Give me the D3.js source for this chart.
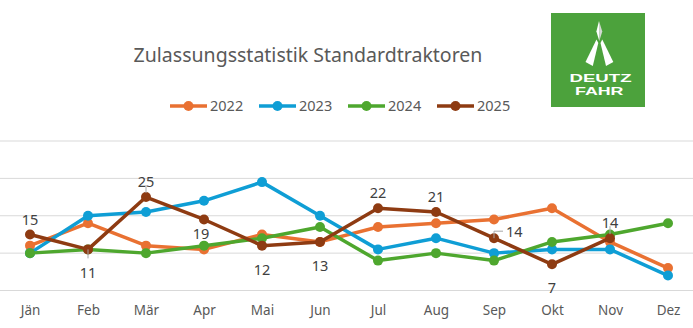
<!DOCTYPE html>
<html>
<head>
<meta charset="utf-8">
<script src="https://cdn.jsdelivr.net/npm/d3@7"></script>
<style>
  html, body { margin: 0; padding: 0; background: #ffffff; }
  svg { display: block; font-family: "Noto Sans", "Open Sans", sans-serif; }
</style>
</head>
<body>
<svg id="chart" width="693" height="328"></svg>
<script>
// ---- data ----
const months = ["Jän", "Feb", "Mär", "Apr", "Mai", "Jun", "Jul", "Aug", "Sep", "Okt", "Nov", "Dez"];
const seriesNames = ["2022", "2023", "2024", "2025"];
const values2022 = [12, 18, 12, 11, 15, 13, 17, 18, 19, 22, 13, 6];
const values2023 = [10, 20, 21, 24, 29, 20, 11, 14, 10, 11, 11, 4];
const values2024 = [10, 11, 10, 12, 14, 17, 8, 10, 8, 13, 15, 18];
const values2025 = [15, 11, 25, 19, 12, 13, 22, 21, 14, 7, 14, null];
const yTicks = [0, 10, 20, 30, 40];
const title = "Zulassungsstatistik Standardtraktoren";
// label placement for 2025 data labels ("*" = with leader line)
const labelPlacement2025 = ["above", "below*", "above*", "belowNear", "below", "below", "above", "above", "right*", "below", "above*", null];

const colors = ["#E97132", "#0F9ED5", "#4EA72E", "#8E3B12"];
const allSeries = [values2022, values2023, values2024, values2025];

const svg = d3.select("#chart");

// ---- scales ----
const x = d3.scalePoint().domain(months).range([30, 668]);
const y = d3.scaleLinear().domain([0, 40]).range([290.5, 141]);

// ---- gridlines ----
svg.append("g").selectAll("line").data(yTicks).join("line")
  .attr("x1", 0).attr("x2", 693)
  .attr("y1", d => y(d)).attr("y2", d => y(d))
  .attr("stroke", "#d9d9d9").attr("stroke-width", 1);

// ---- x axis ----
const xAxis = svg.append("g").attr("transform", "translate(0,305)")
  .call(d3.axisBottom(x).tickSize(0).tickPadding(0));
xAxis.select(".domain").remove();
xAxis.selectAll("text")
  .attr("dy", "0.72em")
  .attr("font-size", 13.5)
  .attr("fill", "#595959")
  .attr("font-family", "Noto Sans, sans-serif");

// ---- lines ----
const line = d3.line()
  .defined(d => d.v != null)
  .x(d => x(d.m)).y(d => y(d.v));

allSeries.forEach((vals, i) => {
  const pts = vals.map((v, j) => ({ m: months[j], v }));
  const g = svg.append("g");
  g.append("path").datum(pts)
    .attr("d", line)
    .attr("fill", "none")
    .attr("stroke", colors[i])
    .attr("stroke-width", 3.5)
    .attr("stroke-linejoin", "round");
  g.selectAll("circle").data(pts.filter(d => d.v != null)).join("circle")
    .attr("cx", d => x(d.m)).attr("cy", d => y(d.v))
    .attr("r", 5)
    .attr("fill", colors[i]);
});

// ---- data labels for 2025 ----
const lbl = svg.append("g").attr("font-size", 14.5).attr("fill", "#404040");
values2025.forEach((v, j) => {
  const p = labelPlacement2025[j];
  if (v == null || !p) return;
  const px = x(months[j]), py = y(v);
  const kind = p.replace("*", "");
  const leader = p.endsWith("*");
  let tx = px, ty = py, anchor = "middle";
  if (kind === "above") ty = py - 15;
  else if (kind === "below") ty = py + 24;
  else if (kind === "belowNear") { ty = py + 14; tx = px - 3; }
  else if (kind === "right") { tx = px + 12; ty = py - 6; anchor = "start"; }
  lbl.append("text")
    .attr("x", tx).attr("y", ty)
    .attr("dy", "0.35em")
    .attr("text-anchor", anchor)
    .text(v);
  if (leader) {
    let path;
    if (kind === "above") path = `M${px},${py - 4}V${py - 12}`;
    else if (kind === "below") path = `M${px},${py}V${py + 9}`;
    else path = `M${px + 9},${py - 7}H${px}V${py}`;
    svg.append("path").attr("d", path).attr("fill", "none")
      .attr("stroke", "#a6a6a6").attr("stroke-width", 1);
  }
});

// ---- title ----
const t = svg.append("text")
  .attr("x", 308).attr("y", 61.5)
  .attr("text-anchor", "middle")
  .attr("font-size", 19)
  .attr("fill", "#595959")
  .text(title);
const tw = t.node().getComputedTextLength();
t.attr("font-size", 19 * 349 / tw);

// ---- legend ----
const legend = svg.append("g").attr("transform", "translate(170,106)");
seriesNames.forEach((name, i) => {
  const g = legend.append("g").attr("transform", `translate(${i * 89},0)`);
  g.append("line").attr("x1", 0).attr("x2", 37).attr("y1", 0).attr("y2", 0)
    .attr("stroke", colors[i]).attr("stroke-width", 3.5);
  g.append("circle").attr("cx", 18.5).attr("cy", 0).attr("r", 5).attr("fill", colors[i]);
  g.append("text").attr("x", 40).attr("y", 0).attr("dy", "0.36em")
    .attr("font-size", 14.5).attr("fill", "#595959").text(name);
});

// ---- logo ----
const logo = svg.append("g");
logo.append("rect").attr("x", 551).attr("y", 13).attr("width", 94).attr("height", 94).attr("fill", "#4CA23C");
// spike
logo.append("path").attr("d", "M599,21 L596.4,31.5 L599.3,41 Z").attr("fill", "#ffffff");
logo.append("path").attr("d", "M599,21 L602.3,31.5 L599.3,41 Z").attr("fill", "#d3d9d2");
// legs
logo.append("path").attr("d", "M596.5,39.5 L598.3,43 L592.8,66 L585.5,62 Z").attr("fill", "#ffffff");
logo.append("path").attr("d", "M602.3,39.5 L600.5,43 L606,66 L613.3,62 Z").attr("fill", "#ffffff");
logo.append("text").attr("x", 569.5).attr("y", 82)
  .attr("font-family", "Liberation Sans, Arial, sans-serif").attr("font-weight", "bold")
  .attr("font-size", 11.3).attr("fill", "#ffffff")
  .attr("textLength", 62).attr("lengthAdjust", "spacingAndGlyphs").text("DEUTZ");
logo.append("text").attr("x", 575).attr("y", 95)
  .attr("font-family", "Liberation Sans, Arial, sans-serif").attr("font-weight", "bold")
  .attr("font-size", 11.3).attr("fill", "#ffffff")
  .attr("textLength", 48.5).attr("lengthAdjust", "spacingAndGlyphs").text("FAHR");
</script>
</body>
</html>
